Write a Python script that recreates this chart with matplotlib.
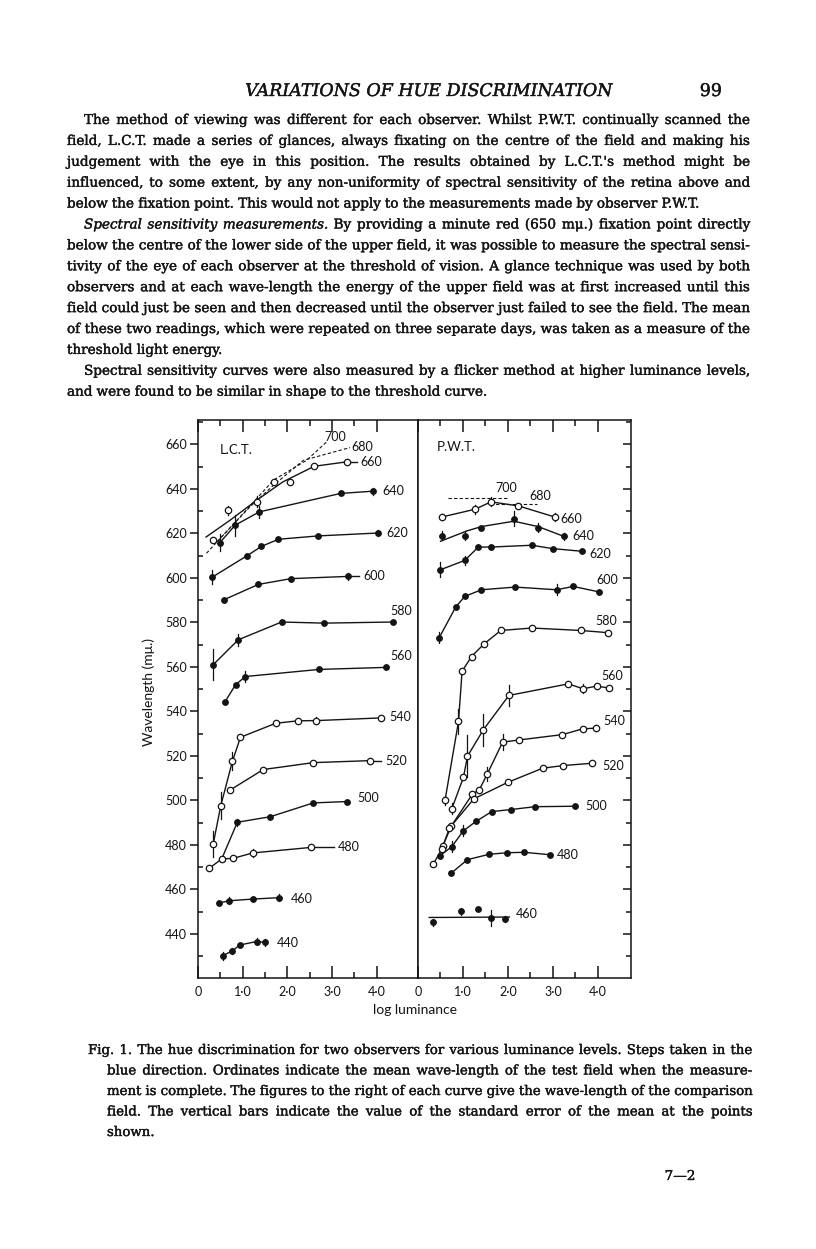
import matplotlib.pyplot as plt
import matplotlib.patheffects as pe
import numpy as np

W, H = 816, 1249
SERIF = ['DejaVu Serif']
SANS = ['Lato', 'DejaVu Sans']
INK = '#141414'

# ---------------- L.C.T. (left panel) ----------------
lct700_x = [0.19, 0.87, 1.69, 2.43, 2.88]
lct700_y = [611.1, 625.9, 644.0, 652.9, 661.2]
lct680_x = [0.42, 1.16, 1.69, 2.36, 3.40]
lct680_y = [616.2, 631.9, 641.7, 652.9, 658.6]

lct660_x = [0.33, 0.66, 1.33, 1.69, 2.05, 2.60, 3.33]
lct660_y = [616.9, 630.4, 634.2, 643.2, 643.2, 650.2, 652.2]
lct660_e = [0, 2, 2.5, 0, 0, 0, 0]
lct660_line_x = [0.18, 0.72, 1.31, 1.90, 2.60, 3.33]
lct660_line_y = [618.4, 626.0, 634.9, 643.2, 650.2, 652.2]

lct640_x = [0.49, 0.83, 1.37, 3.19, 3.91]
lct640_y = [615.9, 623.7, 629.7, 638.0, 639.0]
lct640_e = [4, 4.8, 2.6, 0, 1.5]

lct620_x = [0.32, 1.09, 1.42, 1.80, 2.69, 4.02]
lct620_y = [600.4, 609.9, 614.2, 617.4, 618.9, 620.2]
lct620_e = [3, 0, 0, 0, 0, 1.5]

lct600_x = [0.58, 1.35, 2.08, 3.36]
lct600_y = [590.2, 597.1, 599.7, 600.7]
lct600_e = [0, 0, 0, 1.5]

lct580_x = [0.34, 0.90, 1.87, 2.82, 4.36]
lct580_y = [561.0, 572.2, 580.2, 579.7, 580.2]
lct580_e = [7, 2.6, 0, 0, 0]

lct560_x = [0.60, 0.84, 1.06, 2.71, 4.20]
lct560_y = [544.2, 552.0, 555.7, 558.9, 559.8]
lct560_e = [0, 0, 2.5, 0, 0]

lct540_x = [0.34, 0.51, 0.77, 0.95, 1.74, 2.24, 2.65, 4.09]
lct540_y = [480.4, 497.7, 517.6, 528.4, 534.7, 535.8, 535.9, 537.1]
lct540_e = [6, 6, 4, 0, 0, 0, 1.5, 0]

lct520_x = [0.72, 1.46, 2.58, 3.85]
lct520_y = [504.7, 513.9, 517.0, 517.9]
lct520_e = [0, 0, 0, 0]

lct500_x = [0.53, 0.88, 1.62, 2.58, 3.33]
lct500_y = [473.7, 490.2, 492.7, 498.9, 499.5]
lct500_e = [0, 1.5, 0, 0, 0]

lct480_x = [0.25, 0.53, 0.79, 1.22, 2.53]
lct480_y = [469.5, 473.7, 474.0, 476.4, 478.9]
lct480_e = [0, 1, 0, 2, 0]

lct460_x = [0.47, 0.69, 1.24, 1.82]
lct460_y = [453.9, 454.9, 455.7, 456.3]
lct460_e = [0, 1.5, 0, 1.5]

lct440_x = [0.55, 0.77, 0.93, 1.31, 1.50]
lct440_y = [430.2, 432.4, 435.0, 436.6, 436.2]
lct440_e = [1.8, 1.5, 0, 1.5, 1.5]

# ---------------- P.W.T. (right panel) ----------------
pwt700_x = [0.67, 1.97]
pwt700_y = [636.1, 636.1]
pwt680_x = [1.60, 2.64]
pwt680_y = [633.4, 633.4]

pwt660_x = [0.53, 1.27, 1.62, 2.23, 3.04]
pwt660_y = [627.4, 630.9, 634.2, 632.4, 627.4]
pwt660_e = [1.5, 2, 2, 1, 2]

pwt640_x = [0.53, 1.04, 1.41, 2.13, 2.67, 3.24]
pwt640_y = [618.9, 618.9, 622.6, 626.7, 622.6, 618.7]
pwt640_e = [2, 2, 0, 3.3, 2, 1.5]
pwt640_line_x = [0.50, 1.08, 1.41, 2.13, 2.67, 3.24]
pwt640_line_y = [616.5, 621.1, 623.1, 625.5, 623.1, 618.7]

pwt620_x = [0.50, 1.04, 1.34, 1.62, 2.53, 2.99, 3.64]
pwt620_y = [603.7, 607.9, 613.9, 613.9, 614.7, 613.2, 612.0]
pwt620_e = [3.3, 2, 0, 0, 0, 0, 0]

pwt600_x = [0.47, 0.84, 1.04, 1.41, 2.16, 3.08, 3.45, 4.03]
pwt600_y = [573.1, 587.0, 591.7, 594.7, 595.9, 594.7, 596.2, 593.7]
pwt600_e = [2.5, 0, 0, 0, 0, 2.5, 0, 0]

pwt580_x = [0.60, 0.90, 0.98, 1.19, 1.47, 1.84, 2.53, 3.62, 4.23]
pwt580_y = [500.0, 535.5, 558.1, 564.7, 570.4, 576.4, 577.5, 576.4, 575.4]
pwt580_e = [2, 5.5, 0, 0, 0, 0, 0, 0, 0]

pwt560_x = [0.75, 1.01, 1.10, 1.45, 2.02, 3.34, 3.67, 3.97, 4.25]
pwt560_y = [496.2, 510.4, 519.9, 531.7, 547.2, 552.4, 550.2, 551.4, 550.5]
pwt560_e = [2.5, 0, 9.3, 7, 4.8, 0, 2, 0, 0]

pwt540_x = [0.55, 0.74, 1.21, 1.36, 1.54, 1.88, 2.25, 3.21, 3.66, 3.96]
pwt540_y = [479.5, 488.5, 502.9, 504.7, 511.9, 526.2, 527.2, 529.6, 532.2, 532.5]
pwt540_e = [0, 0, 0, 0, 3, 3.5, 0, 0, 0, 1.5]

pwt520_x = [0.34, 0.53, 0.70, 1.24, 1.99, 2.77, 3.23, 3.86]
pwt520_y = [471.4, 478.2, 487.6, 500.7, 508.1, 514.5, 515.7, 516.7]
pwt520_e = [0, 0, 0, 0, 0, 0, 0, 0]

pwt500_x = [0.49, 0.75, 1.01, 1.29, 1.64, 2.06, 2.60, 3.50]
pwt500_y = [475.2, 479.2, 486.4, 490.6, 495.0, 495.9, 497.2, 497.4]
pwt500_e = [0, 2.5, 2.5, 0, 0, 0, 0, 0]

pwt480_x = [0.73, 1.10, 1.58, 1.98, 2.36, 2.93]
pwt480_y = [467.2, 473.4, 475.8, 476.5, 476.7, 475.6]
pwt480_e = [0, 0, 0, 0, 0, 0]

pwt460_x = [0.34, 0.96, 1.33, 1.62, 1.93]
pwt460_y = [445.2, 450.1, 451.2, 447.1, 446.7]
pwt460_e = [1.5, 1.5, 0, 3.7, 1.5]
pwt460_line_x = [0.25, 2.03]
pwt460_line_y = [447.4, 447.6]

x_ticks = [0, 1, 2, 3, 4]
x_ticklabels = ['0', '1·0', '2·0', '3·0', '4·0']
y_ticks = list(range(440, 661, 20))

header = 'VARIATIONS OF HUE DISCRIMINATION'
page_no = '99'
para1 = [
    "The method of viewing was different for each observer. Whilst P.W.T. continually scanned the",
    "field, L.C.T. made a series of glances, always fixating on the centre of the field and making his",
    "judgement with the eye in this position. The results obtained by L.C.T.'s method might be",
    "influenced, to some extent, by any non-uniformity of spectral sensitivity of the retina above and",
    "below the fixation point. This would not apply to the measurements made by observer P.W.T.",
]
para2 = [
    "_Spectral _sensitivity _measurements. By providing a minute red (650 mμ.) fixation point directly",
    "below the centre of the lower side of the upper field, it was possible to measure the spectral sensi-",
    "tivity of the eye of each observer at the threshold of vision. A glance technique was used by both",
    "observers and at each wave-length the energy of the upper field was at first increased until this",
    "field could just be seen and then decreased until the observer just failed to see the field. The mean",
    "of these two readings, which were repeated on three separate days, was taken as a measure of the",
    "threshold light energy.",
]
para3 = [
    "Spectral sensitivity curves were also measured by a flicker method at higher luminance levels,",
    "and were found to be similar in shape to the threshold curve.",
]
caption = [
    "Fig. 1. The hue discrimination for two observers for various luminance levels. Steps taken in the",
    "blue direction. Ordinates indicate the mean wave-length of the test field when the measure-",
    "ment is complete. The figures to the right of each curve give the wave-length of the comparison",
    "field. The vertical bars indicate the value of the standard error of the mean at the points",
    "shown.",
]
footer = '7—2'

fig = plt.figure(figsize=(W / 100, H / 100), dpi=100)
fig.patch.set_facecolor('white')
renderer = fig.canvas.get_renderer()
BOLDEN = [pe.withStroke(linewidth=0.28, foreground=INK)]

# axes in pixel geometry of the page
axL = fig.add_axes([198 / W, 1 - 978 / H, (418 - 198) / W, (978 - 420) / H])
axR = fig.add_axes([418 / W, 1 - 978 / H, (631 - 418) / W, (978 - 420) / H])
axL.set_xlim(0, 220 / 44.7)
axR.set_xlim(0, 213 / 45.0)
PXU = 44.8  # pixels per log unit


def curve(ax, x, y, e, hollow, label, dx, dy, ha, lx=None, ly=None):
    if lx is None:
        lx, ly = x, y
    ax.plot(lx, ly, color=INK, lw=1.0, zorder=2)
    for xi, yi, ei in zip(x, y, e):
        if ei:
            ax.plot([xi, xi], [yi - ei, yi + ei], color=INK, lw=0.9, zorder=2)
    ax.plot(x, y, 'o', ls='none', ms=4.6 if hollow else 4.0,
            mfc='white' if hollow else INK, mec=INK, mew=0.9, zorder=3)
    if ha == 'left' and dx > 12:
        ax.plot([x[-1], x[-1] + (dx - 4) / PXU], [y[-1], y[-1]], color=INK, lw=1.0)
    ax.annotate(label, (x[-1], y[-1]), xytext=(dx, dy), textcoords='offset pixels',
                ha=ha, va='center', fontsize=9, family=SANS, color=INK)


def dashed(ax, x, y, label, dx, dy):
    ax.plot(x, y, color=INK, lw=0.8, ls=(0, (3, 2)))
    ax.annotate(label, (x[-1], y[-1]), xytext=(dx, dy), textcoords='offset pixels',
                ha='center', va='center', fontsize=9, family=SANS, color=INK)


dashed(axL, lct700_x, lct700_y, '700', 9, 5)
dashed(axL, lct680_x, lct680_y, '680', 12, 1)
curve(axL, lct660_x, lct660_y, lct660_e, True, '660', 14, 0, 'left', lct660_line_x, lct660_line_y)
curve(axL, lct640_x, lct640_y, lct640_e, False, '640', 10, 0, 'left')
curve(axL, lct620_x, lct620_y, lct620_e, False, '620', 9, 0, 'left')
curve(axL, lct600_x, lct600_y, lct600_e, False, '600', 15, 0, 'left')
curve(axL, lct580_x, lct580_y, lct580_e, False, '580', 8, 11, 'center')
curve(axL, lct560_x, lct560_y, lct560_e, False, '560', 15, 11, 'center')
curve(axL, lct540_x, lct540_y, lct540_e, True, '540', 9, 1, 'left')
curve(axL, lct520_x, lct520_y, lct520_e, True, '520', 15, 0, 'left')
curve(axL, lct500_x, lct500_y, lct500_e, False, '500', 10, 4, 'left')
curve(axL, lct480_x, lct480_y, lct480_e, True, '480', 27, 0, 'left')
curve(axL, lct460_x, lct460_y, lct460_e, False, '460', 11, -1, 'left')
curve(axL, lct440_x, lct440_y, lct440_e, False, '440', 12, -1, 'left')

dashed(axR, pwt700_x, pwt700_y, '700', 0, 10)
dashed(axR, pwt680_x, pwt680_y, '680', 3, 8)
curve(axR, pwt660_x, pwt660_y, pwt660_e, True, '660', 6, -2, 'left')
curve(axR, pwt640_x, pwt640_y, pwt640_e, False, '640', 9, 0, 'left', pwt640_line_x, pwt640_line_y)
curve(axR, pwt620_x, pwt620_y, pwt620_e, False, '620', 8, -3, 'left')
curve(axR, pwt600_x, pwt600_y, pwt600_e, False, '600', 8, 12, 'center')
curve(axR, pwt580_x, pwt580_y, pwt580_e, True, '580', -2, 12, 'center')
curve(axR, pwt560_x, pwt560_y, pwt560_e, True, '560', 3, 12, 'center')
curve(axR, pwt540_x, pwt540_y, pwt540_e, True, '540', 7, 7, 'left')
curve(axR, pwt520_x, pwt520_y, pwt520_e, True, '520', 11, -3, 'left')
curve(axR, pwt500_x, pwt500_y, pwt500_e, False, '500', 10, 0, 'left')
curve(axR, pwt480_x, pwt480_y, pwt480_e, False, '480', 7, 0, 'left')
curve(axR, pwt460_x, pwt460_y, pwt460_e, False, '460', 11, 5, 'left', pwt460_line_x, pwt460_line_y)

for ax in (axL, axR):
    ax.set_ylim(420.2, 671)
    for sp in ax.spines.values():
        sp.set_linewidth(1.1)
        sp.set_color(INK)
    ax.set_xticks(x_ticks)
    ax.set_xticks([0.5, 1.5, 2.5, 3.5], minor=True)
    ax.set_xticklabels(x_ticklabels, fontsize=9, family=SANS, color=INK)
    ax.tick_params(axis='x', which='both', direction='in', top=True, bottom=True,
                   width=1.1, color=INK)
    ax.tick_params(axis='x', which='major', length=8.5, pad=6)
    ax.tick_params(axis='x', which='minor', length=4)
    ax.set_yticks(y_ticks)
    ax.set_yticks([v for v in range(430, 671, 10) if v not in y_ticks], minor=True)

axL.set_yticklabels([str(v) for v in y_ticks], fontsize=9, family=SANS, color=INK)
axL.tick_params(axis='y', which='major', direction='out', length=6, width=1.1, pad=2, color=INK)
axL.tick_params(axis='y', which='minor', direction='in', length=3.6, width=1.1, color=INK)
axR.yaxis.tick_right()
axR.tick_params(axis='y', which='both', direction='in', labelright=False, left=False,
                width=1.1, color=INK)
axR.tick_params(axis='y', which='major', length=6)
axR.tick_params(axis='y', which='minor', length=3.6)

fig.text(236 / W, 1 - 450 / H, 'L.C.T.', ha='center', va='center', fontsize=9.5, family=SANS, color=INK)
fig.text(456 / W, 1 - 447 / H, 'P.W.T.', ha='center', va='center', fontsize=9.5, family=SANS, color=INK)
fig.text(415 / W, 1 - 1010 / H, 'log luminance', ha='center', va='center', fontsize=10, family=SANS, color=INK)
fig.text(149 / W, 1 - 692 / H, 'Wavelength (mμ.)', ha='center', va='center', rotation=90,
         fontsize=10, family=SANS, color=INK)


# ---------------- page text ----------------
def text_w(s, size, style='normal'):
    t = fig.text(0, 0, s, fontsize=size, family=SERIF, style=style)
    w = t.get_window_extent(renderer=renderer).width
    t.remove()
    return w


def split(line):
    words = line.split()
    styles = ['italic' if w.startswith('_') else 'normal' for w in words]
    return [w.lstrip('_') for w in words], styles


def natural(line, size):
    words, styles = split(line)
    sp = text_w('a a', size) - text_w('aa', size)
    return sum(text_w(w, size, s) for w, s in zip(words, styles)) + sp * (len(words) - 1)


def put_line(line, x0, x1, yb, size, justify):
    words, styles = split(line)
    ws = [text_w(w, size, s) for w, s in zip(words, styles)]
    sp = text_w('a a', size) - text_w('aa', size)
    if justify and len(words) > 1:
        gap = max((x1 - x0 - sum(ws)) / (len(words) - 1), 0.6 * sp)
    else:
        gap = sp
    x = x0
    for w, s, wd in zip(words, styles, ws):
        fig.text(x / W, 1 - yb / H, w, fontsize=size, family=SERIF, style=s,
                 ha='left', va='baseline', color=INK, path_effects=BOLDEN)
        x += wd + gap


def fit_size(lines, widths):
    ratios = [10 * wd / natural(l, 10) for l, wd in zip(lines, widths)]
    return float(np.percentile(ratios, 10))


BODY_L, BODY_R, INDENT = 67, 750, 84
body = []
for para in (para1, para2, para3):
    for i, line in enumerate(para):
        body.append((line, INDENT if i == 0 else BODY_L, i == len(para) - 1))
full = [(l, BODY_R - x0) for l, x0, last in body if not last]
bsize = fit_size([l for l, _ in full], [w for _, w in full])
for i, (line, x0, last) in enumerate(body):
    put_line(line, x0, BODY_R, 124 + 20.9 * i, bsize, not last)

hsize = 10 * 367 / text_w(header, 10, 'italic')
fig.text(428 / W, 1 - 96 / H, header, ha='center', va='baseline', fontsize=hsize,
         family=SERIF, style='italic', color=INK, path_effects=BOLDEN)
fig.text(722 / W, 1 - 96 / H, page_no, ha='right', va='baseline', fontsize=hsize,
         family=SERIF, color=INK, path_effects=BOLDEN)

CAP_R = 752
cap_x = [88] + [107] * (len(caption) - 1)
csize = fit_size(caption[:-1], [CAP_R - x for x in cap_x[:-1]])
for i, line in enumerate(caption):
    put_line(line, cap_x[i], CAP_R, 1054 + 20.5 * i, csize, i < len(caption) - 1)
fig.text(680 / W, 1 - 1180 / H, footer, ha='center', va='baseline', fontsize=bsize,
         family=SERIF, color=INK, path_effects=BOLDEN)

fig.savefig('out.png', dpi=100, facecolor='white')
